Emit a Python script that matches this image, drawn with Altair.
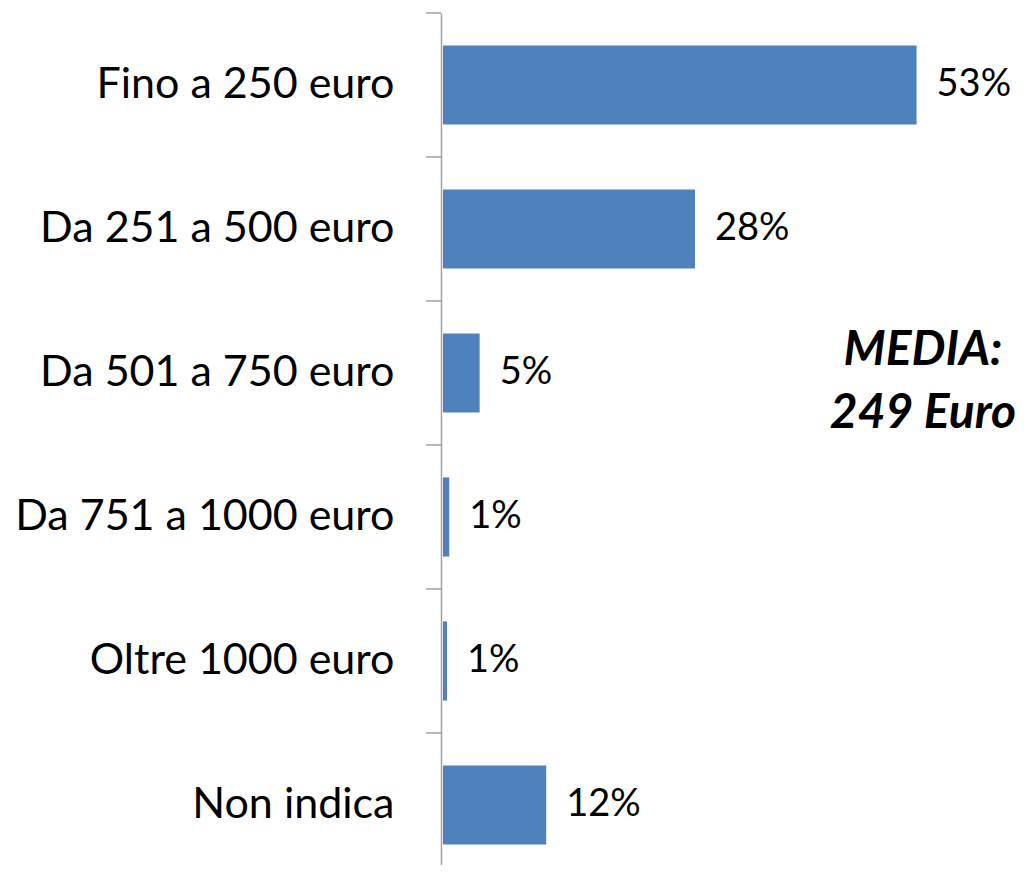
import altair as alt
import pandas as pd

categories = ["Fino a 250 euro", "Da 251 a 500 euro", "Da 501 a 750 euro",
              "Da 751 a 1000 euro", "Oltre 1000 euro", "Non indica"]
values = [53.0, 28.2, 4.1, 0.7, 0.45, 11.55]
labels = ["53%", "28%", "5%", "1%", "1%", "12%"]
note_text = "MEDIA:\n249 Euro"

df = pd.DataFrame({"cat": categories, "val": values, "lab": labels})
note_df = pd.DataFrame({"t": [note_text]})

FONT = "Lato"
GREY = "#A0A0A0"

y = alt.Y(
    "cat:N", sort=categories, title=None,
    scale=alt.Scale(range=[0, 864], paddingInner=0.45, paddingOuter=0.225),
    axis=alt.Axis(ticks=False, domain=True, domainColor=GREY, domainWidth=1.5,
                  labelFont=FONT, labelFontSize=43, labelColor="#000000",
                  labelPadding=47, labelLimit=600, grid=False),
)
x = alt.X("val:Q", scale=alt.Scale(domain=[0, 62], range=[2, 556]), axis=None)

bars = alt.Chart(df).mark_bar(color="#4F81BD").encode(x=x, y=y)
vals = alt.Chart(df).mark_text(align="left", baseline="middle", dx=20,
                               font=FONT, fontSize=38, color="#000000").encode(
    x=x, y=y, text="lab:N")
ticks = alt.Chart(df).mark_rule(color=GREY, strokeWidth=1.5, yOffset=-72).encode(
    y=y, x=alt.value(-15), x2=alt.value(0))
note = alt.Chart(note_df).mark_text(
    align="center", baseline="alphabetic", font=FONT, fontSize=48,
    fontWeight="bold", fontStyle="italic", lineBreak="\n", lineHeight=63,
    color="#000000").encode(x=alt.value(482), y=alt.value(352), text="t:N")

chart = alt.layer(bars, vals, ticks, note).properties(
    width=556, height=852,
    padding={"left": 433, "top": 5, "right": 22, "bottom": 0},
    autosize=alt.AutoSizeParams(type="none"),
).configure_view(stroke=None)

chart.save("out.html", embed_options={"renderer": "svg", "actions": False})
